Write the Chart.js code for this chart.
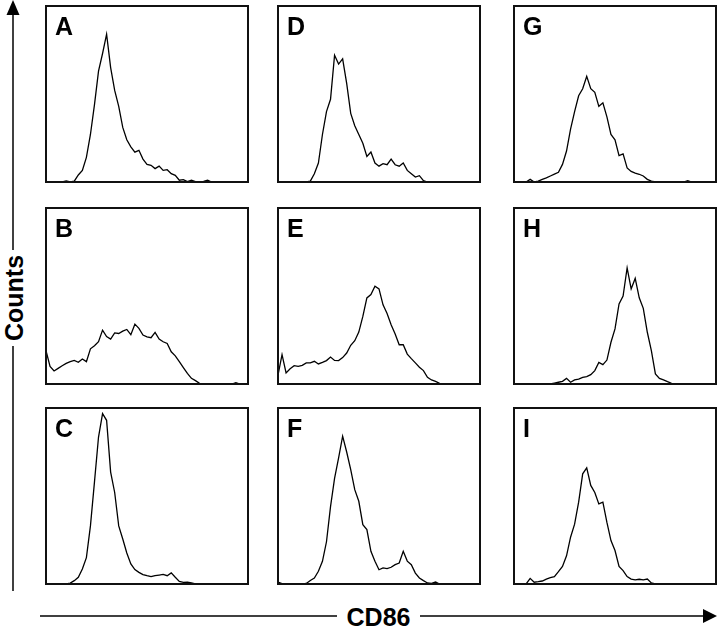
<!DOCTYPE html>
<html><head><meta charset="utf-8">
<script src="https://cdn.jsdelivr.net/npm/chart.js@4.4.1/dist/chart.umd.min.js"></script>
<style>
html,body{margin:0;padding:0;background:#fff;}
#page{position:relative;width:720px;height:630px;overflow:hidden;background:#fff;}
.panel{position:absolute;width:204px;height:178px;}
#axes{position:absolute;left:0;top:0;}
</style></head><body>
<div id="page">
<svg id="axes" width="720" height="630" xmlns="http://www.w3.org/2000/svg">
  <g stroke="#000" stroke-width="1.5" fill="none">
    <line x1="13" y1="14" x2="13" y2="250"/>
    <line x1="13" y1="346" x2="13" y2="591"/>
    <line x1="40" y1="616" x2="337" y2="616"/>
    <line x1="420" y1="616" x2="704" y2="616"/>
  </g>
  <polygon points="13,0 6.5,15 19.5,15" fill="#000"/>
  <polygon points="717,616 703,609 703,623" fill="#000"/>
  <text transform="translate(23,298) rotate(-90)" text-anchor="middle" font-family="'Liberation Sans', Arial, sans-serif" font-weight="bold" font-size="25" fill="#000">Counts</text>
  <text x="378.5" y="626" text-anchor="middle" font-family="'Liberation Sans', Arial, sans-serif" font-weight="bold" font-size="25" fill="#000">CD86</text>
</svg>
</div>
<script>
// CD86 channel (percent of axis range)
const channels = [0,2,4,6,8,10,12,14,16,18,20,22,24,26,28,30,32,34,36,38,40,42,44,46,48,50,52,54,56,58,60,62,64,66,68,70,72,74,76,78,80,82,84,86,88,90,92,94,96,98,100];

// Counts (percent of panel height)
const countsA = [0,0,0,0,0,0.6,0,0.5,4,6.6,14,27,44,63,73,84,65,52,43,31,24,20,17,18,13,10,9.5,7.6,9,6.6,7,4.7,3.8,1,1.3,0.2,1,0.2,0,0.4,1,0,0,0,0,0,0,0,0,0,0];
const countsB = [19,10,7.4,8.9,10.4,11.7,12.7,13.4,12.3,14.2,12.7,20,21.7,24,30.6,27,25.5,29,28.7,30,31,28,34,31.6,27.8,26.8,26.3,29.3,25.5,24,23,18.3,16,12.7,9.3,6,3.2,1.9,0.4,0,0,0,0,0,0,0,0,0.8,0,0,0];
const countsC = [0,0,0,0,0,0,0.5,1.9,3.8,8.5,15,33,58,83.5,96.8,93,63.6,52,33,25.6,17.6,11.4,8.2,6.6,5.3,4.7,4.2,4.7,5.1,5.5,4.7,6.3,3.8,1.5,0.9,1.1,0.6,0,0,0,0,0,0,0,0,0,0,0,0,0,0];
const countsD = [0,0,0,0,0,0,0,0,0.5,4.7,10.8,27,40,47,72,67,70,56,39,32,27,22,14.5,17,10.8,9,10.4,9.8,13,9.8,9,10.8,6.6,4.7,2.8,3.6,0.8,0,0,0,0,0,0,0,0,0,0,0,0,0,0];
const countsE = [5,16.7,6.3,8.7,10.4,10,10.6,12,12,12.9,11.4,12.3,13.3,15.3,13.4,13.3,15,17.6,22,24.6,29.5,38.4,48.9,50.8,55.5,54,45,40,33.7,28.4,22.3,22.3,17,14.4,12,9.5,7.6,3.8,2.3,1.5,0.4,0,0,0,0,0,0,0,0,0,0];
const countsF = [1.1,0.2,0,0,0,0,0,0.3,2,3.4,7.2,12.9,24,44,60,71.6,84,75,65,53.6,47,33.7,30.9,18.6,12.9,8.1,9.1,8.7,9.5,11,11.9,18.6,13,11,6.2,3.4,1.9,0.6,0.4,1.1,0,0,0,0,0,0,0,0,0,0,0];
const countsG = [0,0,0,0,1.5,0,0.5,1.5,2.3,3.4,4.5,5.5,10,17.6,30,40,49,53,60,53,51,43,45,37,27,24,15,16,8,6,5,4.4,3.4,1.5,0.5,0,0,0,0,0,0,0,0,0.8,0,0,0,0,0,0,0];
const countsH = [0,0,0,0,0,0,0,0,0,0,0.5,1,1.5,3.2,1,2.3,2.8,3.8,4.2,5.3,7.6,12.3,11,13.6,23.7,31.3,45.5,50,66,54,60,49,43,29.4,19,5.7,3.2,2.3,1.3,0.4,0,0,0,0,0,0,0,0,0,0,0];
const countsI = [0,0,0,0,3.2,1,1.3,1.7,2.8,3.6,4.2,7,10,16,26.6,34,46.5,62.6,66,56,52,45.5,46.5,35,24.7,19,10,7.6,4.2,2.8,2.3,2.7,2.3,2.8,0.6,0,0,0,0,0,0,0,0,0,0,0,0,0,0,0,0];

const panelLetters = ['A','B','C','D','E','F','G','H','I'];
const panelCounts = [countsA,countsB,countsC,countsD,countsE,countsF,countsG,countsH,countsI];

// layout
const colLeft = [46, 278, 514];
const rowTop = [6, 208, 408];

const framePlugin = {
  id: 'frame',
  afterDraw(chart, args, opts) {
    const ctx = chart.ctx, a = chart.chartArea;
    ctx.save();
    ctx.strokeStyle = '#111';
    ctx.lineWidth = 2;
    ctx.strokeRect(a.left, a.top, a.right - a.left, a.bottom - a.top);
    ctx.fillStyle = '#000';
    ctx.font = 'bold 25px "Liberation Sans", Arial, sans-serif';
    ctx.textBaseline = 'alphabetic';
    ctx.textAlign = 'left';
    ctx.fillText(opts.letter, a.left + 9, a.top + 29);
    ctx.restore();
  }
};

const page = document.getElementById('page');
panelLetters.forEach((letter, i) => {
  const col = Math.floor(i / 3), row = i % 3;
  const div = document.createElement('div');
  div.className = 'panel';
  div.style.left = (colLeft[col] - 1) + 'px';
  div.style.top = (rowTop[row] - 1) + 'px';
  const cv = document.createElement('canvas');
  cv.width = 204; cv.height = 178;
  div.appendChild(cv);
  page.appendChild(div);
  new Chart(cv, {
    type: 'line',
    data: {
      labels: channels,
      datasets: [{
        data: panelCounts[i],
        borderColor: '#000',
        borderWidth: 1.3,
        pointRadius: 0,
        tension: 0,
        fill: false
      }]
    },
    options: {
      responsive: false,
      animation: false,
      devicePixelRatio: 1,
      layout: { padding: 1 },
      plugins: { legend: { display: false }, tooltip: { enabled: false }, frame: { letter } },
      scales: {
        x: { display: false, offset: false },
        y: { display: false, min: 0, max: 100 }
      }
    },
    plugins: [framePlugin]
  });
});
</script>
</body></html>
